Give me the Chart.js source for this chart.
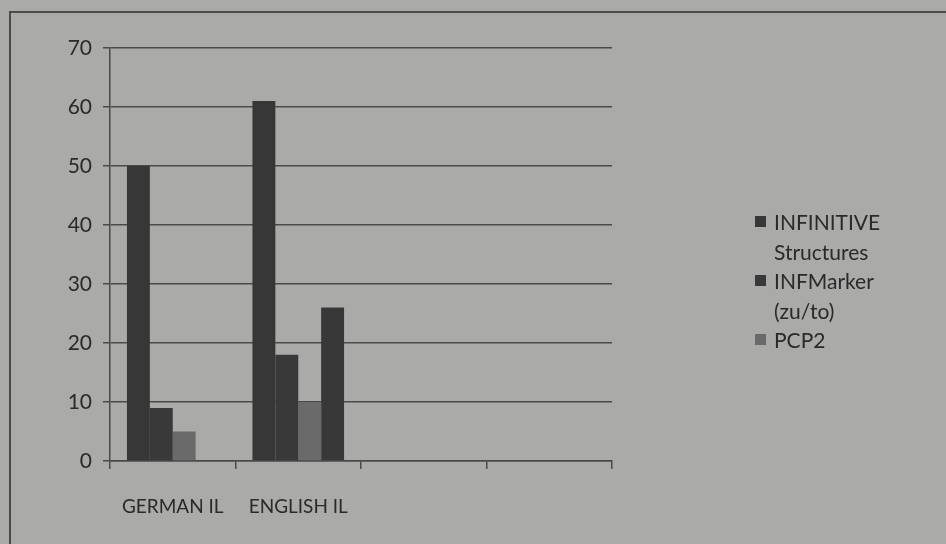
<!DOCTYPE html>
<html>
<head>
<meta charset="utf-8">
<script src="https://cdn.jsdelivr.net/npm/chart.js@4"></script>
<style>
  html, body { margin: 0; padding: 0; background: #aaaaa8; }
  #wrap { position: relative; width: 946px; height: 544px; overflow: hidden; }
  #frame { position: absolute; left: 9px; top: 11px; width: 960px; height: 560px;
           border-left: 2px solid #4a4a4a; border-top: 2px solid #4a4a4a; box-sizing: border-box; }
  canvas { position: absolute; left: 0; top: 0; }
  #legend { position: absolute; left: 755px; top: 207px; font-family: Lato, "Open Sans", sans-serif;
            font-size: 21px; color: #2a2a2a; line-height: 29.5px; }
  .item { position: relative; padding-left: 19px; width: 160px; }
  .box { position: absolute; left: 0; top: 9px; width: 11px; height: 11px; }
</style>
</head>
<body>
<div id="wrap">
  <div id="frame"></div>
  <canvas id="chart" width="946" height="544"></canvas>
  <div id="legend"></div>
</div>
<script>
// 🔹 DATA
const categorias = ["GERMAN IL", "ENGLISH IL", "", ""];
const infinitive = [50, 61, null, null];
const infMarker = [9, 18, null, null];
const pcp2 = [5, 10, null, null];
const extra = [null, 26, null, null];
const yTicks = [0, 10, 20, 30, 40, 50, 60, 70];

const legendLabels = [["INFINITIVE", "Structures"], ["INFMarker", "(zu/to)"], ["PCP2"]];
const colores = ["#373737", "#393939", "#6a6a6a", "#383838"];

// 🏷️ LEGEND (html, para poder partir lineas)
const legend = document.getElementById("legend");
legendLabels.forEach((lines, i) => {
    const item = document.createElement("div");
    item.className = "item";
    item.innerHTML = `<span class="box" style="background:${colores[i]}"></span>` + lines.join("<br>");
    legend.appendChild(item);
});

const familia = "Lato, 'Open Sans', sans-serif";

// 📊 CHART
new Chart(document.getElementById("chart"), {
    type: "bar",
    data: {
        labels: categorias,
        datasets: [
            { label: legendLabels[0].join(" "), data: infinitive, backgroundColor: colores[0] },
            { label: legendLabels[1].join(" "), data: infMarker, backgroundColor: colores[1] },
            { label: legendLabels[2].join(" "), data: pcp2, backgroundColor: colores[2] },
            { label: "", data: extra, backgroundColor: colores[3] }
        ]
    },
    options: {
        responsive: false,
        animation: false,
        categoryPercentage: 0.73,
        barPercentage: 1.0,
        layout: { padding: { left: 0, right: 334, top: 48, bottom: 0 } },
        plugins: {
            legend: { display: false },
            tooltip: { enabled: false }
        },
        scales: {
            y: {
                min: 0,
                max: 70,
                afterBuildTicks: (scale) => { scale.ticks = yTicks.map(v => ({ value: v })); },
                afterFit: (scale) => { scale.width = 110; },
                ticks: { color: "#2a2a2a", font: { family: familia, size: 21 }, padding: 11 },
                grid: { color: "#4a4a4a", lineWidth: 1.5, tickLength: 7 },
                border: { color: "#4a4a4a", width: 1.5 }
            },
            x: {
                afterFit: (scale) => { scale.height = 83; },
                ticks: { color: "#2a2a2a", font: { family: familia, size: 19 }, padding: 26,
                         autoSkip: false, maxRotation: 0 },
                grid: { color: "#4a4a4a", lineWidth: 1.5, drawOnChartArea: false, tickLength: 8 },
                border: { color: "#4a4a4a", width: 1.5 }
            }
        }
    }
});
</script>
</body>
</html>
